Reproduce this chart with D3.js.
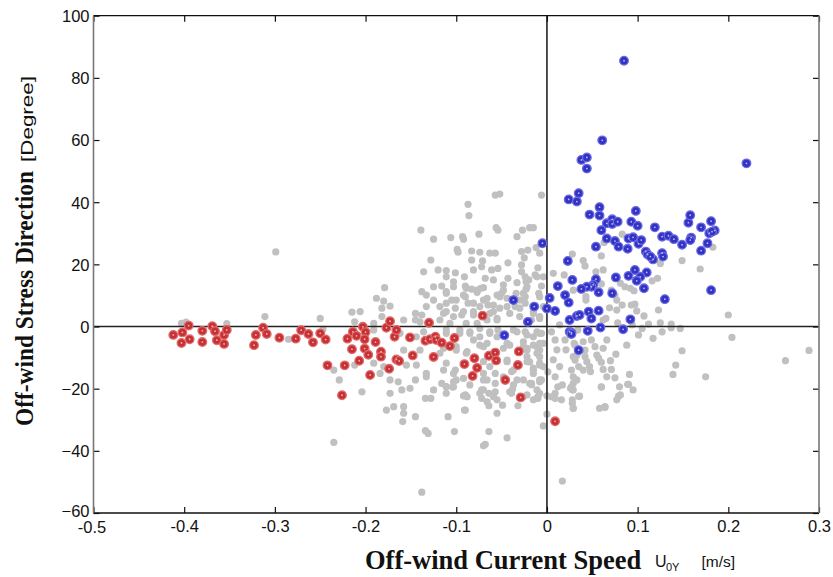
<!DOCTYPE html>
<html><head><meta charset="utf-8">
<script src="https://cdn.jsdelivr.net/npm/d3@7"></script>
<style>
body{margin:0;background:#fff;}
svg{display:block;}
</style></head>
<body>
<svg id="chart" width="833" height="577"></svg>
<script>
const xTicks = [-0.5,-0.4,-0.3,-0.2,-0.1,0,0.1,0.2,0.3];
const yTicks = [-60,-40,-20,0,20,40,60,80,100];

const grayPts = [
[-0.299,24.0],[-0.403,1.0],[-0.398,1.4],[-0.353,0.9],[-0.311,3.2],[-0.285,-4.1],[-0.250,2.6],[-0.247,-0.9],[-0.235,-14.0],[-0.229,-17.2],[-0.212,-12.4],[-0.215,4.6],[-0.212,1.5],[-0.235,-37.3],
[0.083,29.7],[0.028,23.3],[0.040,21.2],[0.042,19.5],[0.060,22.7],[0.063,27.0],[0.054,17.6],[0.062,18.2],[0.125,20.3],[0.149,21.2],[0.183,25.5],[0.169,18.5],[0.122,15.5],[0.116,14.7],[0.081,13.9],[0.086,12.8],[0.092,12.3],[0.096,11.5],[0.071,11.7],[0.060,13.7],[0.029,11.7],[0.043,9.6],[0.043,8.5],[0.075,10.1],[0.077,8.5],[0.069,6.0],[0.077,5.3],[0.083,6.9],[0.093,6.9],[0.097,7.2],[0.099,5.0],[0.107,3.4],[0.123,5.3],[0.065,2.6],[0.062,2.1],[0.078,1.2],[0.094,0.5],[0.105,-0.6],[0.112,0.8],[0.125,1.2],[0.127,-1.7],[0.137,0.8],[0.137,-0.4],[0.147,-0.6],[0.101,-2.7],[0.117,-3.8],[0.200,3.7],[0.204,-3.5],[0.149,-7.8],[0.142,-12.4],[0.139,-15.4],[0.175,-16.2],[0.263,-11.0],[0.289,-7.7],[0.088,-6.0],[0.091,-15.4],[0.089,-18.6],[0.095,-20.4],[0.080,-19.4],[0.081,-22.0],[0.077,-23.6],[0.075,-16.5],[0.071,-13.8],[0.062,-13.8],[0.060,-19.4],[0.070,-11.0],[0.076,-8.9],[0.066,-4.3],[0.058,-26.3],[0.064,-25.8],[0.036,-22.4],[0.029,-26.3],[0.028,-24.7],[0.027,-19.4],[0.028,-20.4],[0.042,-9.7],[0.044,-11.3],[0.047,-12.9],[0.048,-14.5],[0.040,-14.0],[0.035,-12.9],[0.055,-9.2],[0.057,-10.2],[0.060,-11.5],[0.053,-6.5],[0.062,-7.0],[0.049,-4.3],[0.040,-4.9],[0.031,-6.0],[0.031,-10.8],[0.033,-9.2],[0.042,-7.6],[0.029,-16.2],[0.027,-14.0],[0.066,-16.2],
[-0.057,42.3],[-0.052,42.6],[-0.006,42.3],[-0.087,39.3],[-0.086,35.7],[-0.056,31.8],[-0.054,31.0],[-0.106,28.6],[-0.093,28.9],[-0.092,28.1],[-0.075,29.7],[-0.027,31.0],[-0.019,31.8],[-0.015,31.8],[-0.033,28.9],[-0.099,24.8],[-0.098,23.9],[-0.083,24.3],[-0.074,23.9],[-0.063,23.6],[-0.057,23.6],[-0.028,24.1],[-0.021,24.6],[-0.012,25.4],[-0.008,23.6],[-0.025,22.1],[-0.083,21.4],[-0.071,21.1],[-0.072,19.2],[-0.081,18.2],[-0.061,18.2],[-0.054,18.7],[-0.043,20.5],[-0.028,19.8],[-0.028,17.6],[-0.010,18.9],[-0.111,16.0],[-0.101,17.3],[-0.091,16.0],[-0.068,15.5],[-0.059,15.0],[-0.048,13.4],[-0.043,15.5],[-0.033,14.1],[-0.024,16.0],[-0.023,14.4],[-0.013,16.6],[-0.004,16.0],[-0.103,12.8],[-0.089,12.3],[-0.077,11.7],[-0.073,12.3],[-0.023,12.0],[-0.006,13.0],[-0.111,10.7],[-0.092,10.1],[-0.050,10.7],[-0.034,10.7],[-0.024,9.6],[0.007,17.1],[0.019,16.6],
[-0.139,31.0],[-0.125,28.1],[-0.128,21.4],[-0.136,17.6],[-0.120,18.2],[-0.111,18.0],[-0.179,12.5],[-0.138,11.2],[-0.133,10.1],[-0.125,12.8],[-0.116,13.0],[-0.111,11.2],[-0.103,14.4],[-0.090,13.0],[-0.083,12.0],[-0.077,11.0],[-0.070,12.5],[-0.066,9.1],[-0.055,10.1],[-0.048,11.7],[-0.044,9.1],[-0.022,12.8],[-0.020,15.0],[-0.011,16.0],[-0.009,10.7],[-0.188,9.1],[-0.180,8.2],[-0.173,6.6],[-0.182,5.9],[-0.206,4.8],[-0.145,4.2],[-0.145,2.1],[-0.138,3.7],[-0.133,6.4],[-0.125,8.5],[-0.118,6.4],[-0.111,4.8],[-0.105,8.5],[-0.101,5.9],[-0.094,3.7],[-0.087,7.5],[-0.081,4.8],[-0.074,6.4],[-0.065,6.9],[-0.059,4.8],[-0.052,5.9],[-0.035,6.4],[-0.030,5.9],[-0.024,7.5],[-0.015,4.8],[-0.008,3.2],[-0.017,2.1],[-0.055,2.1],[-0.066,2.1],[-0.077,1.0],[-0.089,1.0],[-0.107,1.0],[-0.118,2.1],[-0.129,1.0],[-0.140,1.5],[-0.158,2.1],[-0.182,3.2],[-0.191,1.0],
[-0.191,-1.1],[-0.162,-2.2],[-0.144,-3.3],[-0.136,-1.7],[-0.111,-2.2],[-0.096,-1.1],[-0.085,-2.2],[-0.074,-0.6],[-0.063,-1.7],[-0.055,-3.3],[-0.037,-1.1],[-0.024,-1.7],[-0.015,-3.3],[-0.008,-2.2],[-0.081,-4.3],[-0.074,-6.0],[-0.066,-5.4],[-0.044,-5.4],[-0.026,-6.5],[-0.011,-6.5],[-0.004,-5.4],[-0.158,-7.6],[-0.140,-7.6],[-0.118,-8.6],[-0.100,-7.6],[-0.089,-8.6],[-0.044,-10.8],[-0.022,-9.7],[-0.008,-9.7],[-0.191,-11.8],[-0.180,-12.9],[-0.155,-12.4],[-0.144,-12.4],[-0.133,-15.1],[-0.114,-14.0],[-0.103,-15.1],[-0.070,-15.1],[-0.057,-15.1],[-0.037,-14.0],[-0.015,-14.0],[-0.004,-12.9],[-0.184,-15.1],[-0.173,-17.2],[-0.164,-17.8],[-0.145,-17.2],[-0.133,-16.2],[-0.116,-18.3],[-0.100,-17.2],[-0.085,-18.8],[-0.066,-17.2],[-0.033,-17.2],[-0.017,-18.3],[-0.008,-17.2],[-0.204,-21.0],[-0.173,-21.5],[-0.160,-20.4],[-0.151,-19.9],[-0.125,-20.4],[-0.111,-21.5],[-0.090,-22.0],[-0.074,-21.5],[-0.055,-23.6],[-0.039,-21.5],[-0.022,-22.0],[-0.011,-23.1],[-0.008,-21.5],[-0.134,-23.1],[-0.128,-23.1],[-0.066,-24.2],[-0.177,-26.9],[-0.169,-25.8],[-0.158,-25.8],[-0.090,-26.9],[-0.109,-29.0],[-0.055,-27.9],
[-0.158,-27.9],[-0.145,-29.0],[-0.159,-30.6],[-0.134,-33.5],[-0.131,-34.4],[-0.102,-33.8],[-0.091,-26.9],[-0.092,-22.3],[-0.111,-19.3],[-0.104,-19.5],[-0.072,-20.4],[-0.072,-23.1],[-0.064,-21.5],[-0.057,-21.0],[-0.064,-25.5],[-0.049,-25.3],[-0.064,-33.8],[-0.068,-37.9],[-0.070,-38.4],[-0.044,-35.8],[-0.038,-20.2],[-0.032,-25.5],[-0.017,-18.7],[-0.010,-23.1],[0.000,-22.3],[0.000,-28.2],[-0.004,-32.0],[0.009,-21.5],[0.009,-23.1],[0.017,-18.8],[0.028,-23.6],[0.029,-26.3],[0.035,-22.5],[0.064,-26.0],[0.060,-19.5],[0.079,-22.4],[0.090,-18.6],[0.017,-49.7],[-0.138,-53.3],[0.029,-18.3],[0.026,-19.9],
[0.005,-1.7],[0.009,-4.3],[0.011,-7.5],[0.007,-10.7],[0.014,-12.9],[0.009,-16.2],[0.012,-19.4],[0.005,-22.6],[0.016,-23.6],[0.029,-9.7],[0.033,-17.2],[0.029,-20.4],[0.020,-4.3],[0.021,-7.5],[0.030,-5.4],[0.034,-1.1],[0.014,0.5],[-0.006,-2.2],[-0.008,-5.4],[-0.011,-8.6],[-0.008,-11.8],[-0.015,-15.1],[-0.006,-17.2],[-0.011,-20.4],[-0.015,-23.6],[0.001,-14.6],[-0.019,-11.4],[-0.022,-7.6],[-0.026,-4.9],
[-0.111,7.5],[-0.100,8.5],[-0.090,9.6],[-0.081,7.5],[-0.070,8.5],[-0.059,6.9],[-0.052,9.6],[-0.044,6.4],[-0.030,8.5],[-0.026,10.7],[-0.008,9.6],[-0.004,6.4],
[-0.114,4.2],[-0.103,3.2],[-0.092,4.8],[-0.081,3.7],[-0.063,4.2],[-0.055,2.6],[-0.041,4.2],[-0.030,3.2],[-0.015,4.2],[-0.008,2.6],
[-0.111,-1.1],[-0.096,-2.2],[-0.085,-1.7],[-0.074,-3.3],[-0.063,-2.2],[-0.054,-1.1],[-0.033,-1.7],[-0.022,-2.7],[-0.011,-1.7],
[-0.114,-7.0],[-0.100,-6.5],[-0.088,-8.1],[-0.070,-6.5],[-0.048,-7.0],[-0.041,-6.0],[-0.022,-7.0],[-0.015,-6.0],[-0.008,-7.6],
[-0.111,-11.8],[-0.101,-14.0],[-0.070,-11.3],[-0.063,-12.9],[-0.044,-11.3],[-0.039,-14.5],[-0.022,-11.3],[-0.015,-13.4],[-0.008,-12.4],
[-0.103,-17.8],[-0.092,-16.7],[-0.070,-17.2],[-0.057,-18.3],[-0.048,-16.2],[-0.037,-18.8],[-0.026,-17.2],[-0.019,-18.3],[-0.008,-17.8],
[-0.111,-19.4],[-0.103,-19.4],[-0.088,-22.6],[-0.070,-20.4],[-0.059,-22.6],[-0.041,-21.0],[-0.026,-22.6],[-0.010,-22.6]
];

const redPts = [
[-0.412,-2.7],[-0.402,-1.9],[-0.403,-5.3],[-0.395,0.3],[-0.394,-4.1],[-0.380,-1.4],[-0.380,-5.0],[-0.369,0.1],[-0.366,-1.5],[-0.364,-4.4],[-0.356,-2.7],[-0.356,-5.6],[-0.353,-1.1],[-0.323,-6.0],[-0.321,-2.7],[-0.313,-0.4],[-0.309,-2.4],[-0.295,-3.6],[-0.277,-3.9],[-0.271,-1.2],[-0.263,-2.4],[-0.258,-5.1],[-0.250,-2.2],[-0.244,-4.2],[-0.242,-12.5],[-0.223,-12.5],[-0.226,-22.1],[-0.220,-3.9],[-0.214,-1.7],[-0.215,-7.3],[-0.210,-3.0],[-0.207,-11.0],[-0.203,-0.1],[-0.200,-1.8],[-0.201,-4.1],[-0.201,-7.1],[-0.197,-9.1],[-0.195,-15.6],[-0.189,-5.0],[-0.183,-8.1],[-0.183,-9.7],[-0.177,-0.4],[-0.173,1.7],[-0.168,-3.3],[-0.166,-1.1],[-0.174,-13.6],[-0.166,-10.6],[-0.163,-11.1],[-0.151,-3.5],[-0.148,-9.3],[-0.130,1.2],[-0.134,-4.6],[-0.129,-4.1],[-0.123,-3.3],[-0.122,-4.3],[-0.116,-5.2],[-0.125,-9.8],[-0.107,-6.3],[-0.102,-3.7],[-0.091,-12.1],[-0.080,-10.2],[-0.077,-13.3],[-0.082,-15.9],[-0.071,3.5],[-0.064,-9.4],[-0.057,-8.4],[-0.056,-10.9],[-0.046,-17.2],[-0.031,-8.0],[-0.032,-12.4],[-0.029,-22.8],[0.009,-30.5]
];

const bluePts = [
[-0.005,26.8],[0.024,40.9],[0.033,40.2],[0.035,42.9],[0.023,21.1],[0.028,15.0],[0.012,13.0],[0.020,10.1],[0.024,7.7],[0.003,9.2],[0.009,5.0],[0.000,5.8],[-0.014,6.4],[-0.037,8.5],[-0.021,1.5],[-0.047,-2.8],[0.025,2.1],[0.025,-1.7],[0.033,3.4],[0.035,-7.6],[0.027,-2.0],
[0.085,85.5],[0.061,59.9],[0.038,53.6],[0.044,54.4],[0.044,50.8],[0.220,52.5],[0.058,38.4],[0.047,36.0],[0.058,35.7],[0.098,37.2],[0.060,31.0],[0.066,33.2],[0.072,34.5],[0.072,33.0],[0.078,33.7],[0.093,33.7],[0.100,32.4],[0.119,31.9],[0.066,28.3],[0.075,27.5],[0.079,25.7],[0.089,25.0],[0.054,25.7],[0.090,28.3],[0.095,28.7],[0.101,26.6],[0.104,27.8],[0.109,24.1],[0.111,23.2],[0.117,21.6],[0.114,22.5],[0.127,28.9],[0.134,29.2],[0.140,28.1],[0.127,23.6],[0.128,22.5],[0.149,26.3],[0.156,33.4],[0.158,35.8],[0.159,28.6],[0.158,27.8],[0.170,31.9],[0.181,33.9],[0.185,30.9],[0.179,30.0],[0.182,30.5],[0.177,26.8],[0.170,24.4],[0.181,11.7],[0.130,8.8],[0.107,12.3],[0.110,17.4],[0.097,18.2],[0.103,16.0],[0.099,14.7],[0.090,16.3],[0.076,15.8],[0.072,10.7],[0.054,15.2],[0.051,13.4],[0.049,12.8],[0.044,12.8],[0.038,12.1],[0.057,11.0],[0.036,3.7],[0.046,4.8],[0.057,5.1],[0.049,2.6],[0.092,2.3],[0.059,-0.3],[0.045,-1.4],[0.084,-0.9],[0.027,-2.4]
];

const svg = d3.select("#chart");
const L = 93.5, R = 819, T = 15.7, B = 513;
const x = d3.scaleLinear().domain([-0.5,0.3]).range([L,R]);
const y = d3.scaleLinear().domain([-60,100]).range([B,T]);
const tickFont = "'Liberation Sans', Arial, sans-serif";
const fmtX = d => d === 0 ? "0" : d3.format(".1f")(d).replace("−","-");

// gray points
svg.append("g").selectAll("circle").data(grayPts).join("circle")
  .attr("cx", d => x(d[0])).attr("cy", d => y(d[1])).attr("r", 3.6)
  .attr("fill", "#c0c0c0");

// zero lines
svg.append("line").attr("x1", L).attr("x2", R).attr("y1", y(0)).attr("y2", y(0))
  .attr("stroke", "#222").attr("stroke-width", 1.6);
svg.append("line").attr("x1", x(0)).attr("x2", x(0)).attr("y1", T).attr("y2", B)
  .attr("stroke", "#222").attr("stroke-width", 1.6);

function drawMarkers(data, fill, stroke, dot) {
  const g = svg.append("g");
  g.selectAll("circle.m").data(data).join("circle").attr("class","m")
    .attr("cx", d => x(d[0])).attr("cy", d => y(d[1])).attr("r", 4.3)
    .attr("fill", fill).attr("stroke", stroke).attr("stroke-width", 1.3);
  g.selectAll("circle.c").data(data).join("circle").attr("class","c")
    .attr("cx", d => x(d[0])).attr("cy", d => y(d[1])).attr("r", 0.9)
    .attr("fill", dot);
}
drawMarkers(redPts, "#c43236", "#e26a6a", "#f2b0b0");
drawMarkers(bluePts, "#3232c4", "#6a6ae2", "#b8b8f4");

// axes
const gx = svg.append("g").attr("transform", `translate(0,${B})`)
  .call(d3.axisBottom(x).tickValues(xTicks).tickSize(-6).tickPadding(7).tickFormat(fmtX));
const gxt = svg.append("g").attr("transform", `translate(0,${T})`)
  .call(d3.axisTop(x).tickValues(xTicks).tickSize(-6).tickFormat(""));
const gy = svg.append("g").attr("transform", `translate(${L},0)`)
  .call(d3.axisLeft(y).tickValues(yTicks).tickSize(-6).tickPadding(4).tickFormat(d3.format("d")));
const gyr = svg.append("g").attr("transform", `translate(${R},0)`)
  .call(d3.axisRight(y).tickValues(yTicks).tickSize(-6).tickFormat(""));
[gx,gxt,gy,gyr].forEach(g => {
  g.select(".domain").remove();
  g.selectAll(".tick line").attr("stroke", "#111").attr("stroke-width", 1.2);
  g.selectAll("text").attr("font-family", tickFont).attr("font-size", 16.5).attr("fill", "#111");
});
gy.selectAll("text").attr("dy", "0.36em");
gy.selectAll(".tick").filter(d => d === -60).select("text").attr("dy", "0.22em");
gx.selectAll(".tick").filter(d => d === -0.5).select("text").attr("dx", -2).attr("dy", "0.76em");

// frame
svg.append("line").attr("x1", L).attr("x2", R).attr("y1", T).attr("y2", T).attr("stroke", "#111").attr("stroke-width", 1.2);
svg.append("line").attr("x1", L).attr("x2", R).attr("y1", B).attr("y2", B).attr("stroke", "#111").attr("stroke-width", 1.4);
svg.append("line").attr("x1", L).attr("x2", L).attr("y1", T).attr("y2", B).attr("stroke", "#777").attr("stroke-width", 1.6);
svg.append("line").attr("x1", R).attr("x2", R).attr("y1", T).attr("y2", B).attr("stroke", "#777").attr("stroke-width", 1.6);

// x title
svg.append("text").attr("x", 365).attr("y", 569)
  .attr("font-family", "'Liberation Serif', 'Times New Roman', serif")
  .attr("font-weight", "bold").attr("font-size", 26.5).attr("fill", "#111")
  .text("Off-wind Current Speed");
const xu = svg.append("text").attr("y", 567).attr("font-family", tickFont).attr("fill", "#111");
xu.append("tspan").attr("x", 655).attr("font-size", 16).text("U");
xu.append("tspan").attr("x", 666).attr("y", 571).attr("font-size", 11).text("0Y");
xu.append("tspan").attr("x", 701.5).attr("y", 567).attr("font-size", 15.5).text("[m/s]");

// y title
const yg = svg.append("g").attr("transform", "translate(33,0) rotate(-90)");
yg.append("text").attr("x", -426).attr("y", 0)
  .attr("font-family", "'Liberation Serif', 'Times New Roman', serif")
  .attr("font-weight", "bold").attr("font-size", 26).attr("fill", "#111")
  .attr("textLength", 255).attr("lengthAdjust", "spacingAndGlyphs")
  .text("Off-wind Stress Direction");
yg.append("text").attr("x", -162).attr("y", 0)
  .attr("font-family", tickFont).attr("font-size", 16.5).attr("fill", "#111")
  .attr("textLength", 86).attr("lengthAdjust", "spacingAndGlyphs")
  .text("[Degree]");
</script>
</body></html>
